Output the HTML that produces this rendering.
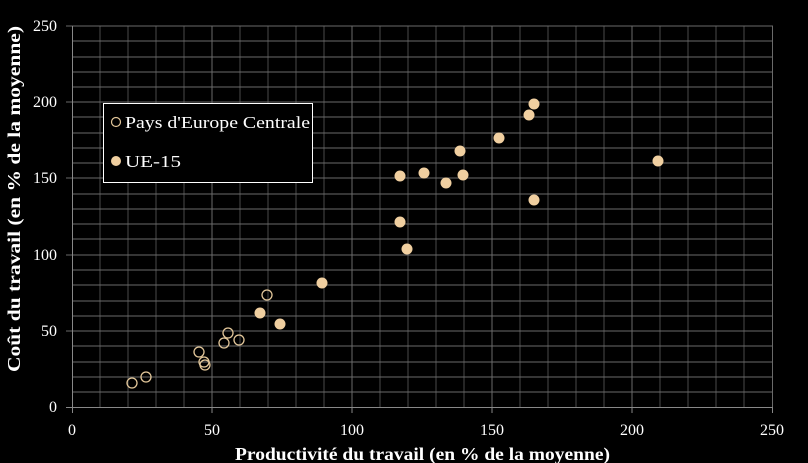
<!DOCTYPE html>
<html><head><meta charset="utf-8"><style>body{margin:0;background:#000}svg{display:block}text{font-family:"Liberation Serif",serif}</style></head><body>
<svg width="808" height="463" viewBox="0 0 808 463">
<rect width="808" height="463" fill="#000"/>
<g stroke="#4a4a4a" stroke-width="1">
<path d="M100 26V407M128 26V407M156 26V407M184 26V407M240 26V407M268 26V407M296 26V407M324 26V407M380 26V407M408 26V407M436 26V407M464 26V407M520 26V407M548 26V407M576 26V407M604 26V407M660 26V407M688 26V407M716 26V407M744 26V407"/>
</g>
<g stroke="#6a6a6a" stroke-width="1">
<path d="M212 26V407M352 26V407M492 26V407M632 26V407M772.5 26V407"/>
<path d="M72 392H773M72 377H773M72 362H773M72 346H773M72 316H773M72 301H773M72 285H773M72 270H773M72 239H773M72 224H773M72 209H773M72 194H773M72 163H773M72 148H773M72 133H773M72 117H773M72 87H773M72 72H773M72 57H773M72 41H773"/>
<path d="M66 331H773M66 255H773M66 178H773M66 102H773M66 26H773"/>
</g>
<g stroke="#888" stroke-width="1"><path d="M72.5 26V407M66 407.5H773M72.5 407V413M212 407V413M352 407V413M492 407V413M632 407V413M772.5 407V413"/></g>
<g fill="#fff" font-size="16" text-anchor="end">
<text x="57" y="412">0</text><text x="57" y="336">50</text><text x="57" y="260">100</text><text x="57" y="183">150</text><text x="57" y="107">200</text><text x="57" y="31">250</text>
</g>
<g fill="#fff" font-size="16" text-anchor="middle">
<text x="72" y="435">0</text><text x="212" y="435">50</text><text x="352" y="435">100</text><text x="492" y="435">150</text><text x="632" y="435">200</text><text x="772" y="435">250</text>
</g>
<text x="235" y="460" fill="#fff" font-size="18" font-weight="bold" textLength="375" lengthAdjust="spacingAndGlyphs">Productivité du travail (en % de la moyenne)</text>
<text transform="translate(20,372) rotate(-90)" fill="#fff" font-size="18" font-weight="bold" textLength="346" lengthAdjust="spacingAndGlyphs">Coût du travail (en % de la moyenne)</text>
<g fill="#f0cfa0">
<circle cx="260" cy="313" r="5.5"/><circle cx="280" cy="324" r="5.5"/><circle cx="322" cy="283" r="5.5"/><circle cx="400" cy="176" r="5.5"/><circle cx="400" cy="222" r="5.5"/><circle cx="407" cy="249" r="5.5"/><circle cx="424" cy="173" r="5.5"/><circle cx="446" cy="183" r="5.5"/><circle cx="460" cy="151" r="5.5"/><circle cx="463" cy="175" r="5.5"/><circle cx="499" cy="138" r="5.5"/><circle cx="529" cy="115" r="5.5"/><circle cx="534" cy="104" r="5.5"/><circle cx="534" cy="200" r="5.5"/><circle cx="658" cy="161" r="5.5"/>
</g>
<g fill="none" stroke="#e3c79a" stroke-width="1.3">
<circle cx="132" cy="383" r="5"/><circle cx="146" cy="377" r="5"/><circle cx="199" cy="352" r="5"/><circle cx="204" cy="362" r="5"/><circle cx="205" cy="365" r="5"/><circle cx="224" cy="343" r="5"/><circle cx="228" cy="333" r="5"/><circle cx="239" cy="340" r="5"/><circle cx="267" cy="295" r="5"/>
</g>
<rect x="103.5" y="103.5" width="209" height="79" fill="#000" stroke="#fff"/>
<circle cx="116" cy="122" r="4.5" fill="none" stroke="#e3c79a" stroke-width="1.2"/>
<text x="125" y="128" fill="#fff" font-size="17" textLength="185" lengthAdjust="spacingAndGlyphs">Pays d'Europe Centrale</text>
<circle cx="116" cy="161" r="5" fill="#f0cfa0"/>
<text x="125" y="167" fill="#fff" font-size="17" textLength="56" lengthAdjust="spacingAndGlyphs">UE-15</text>
</svg>
</body></html>
